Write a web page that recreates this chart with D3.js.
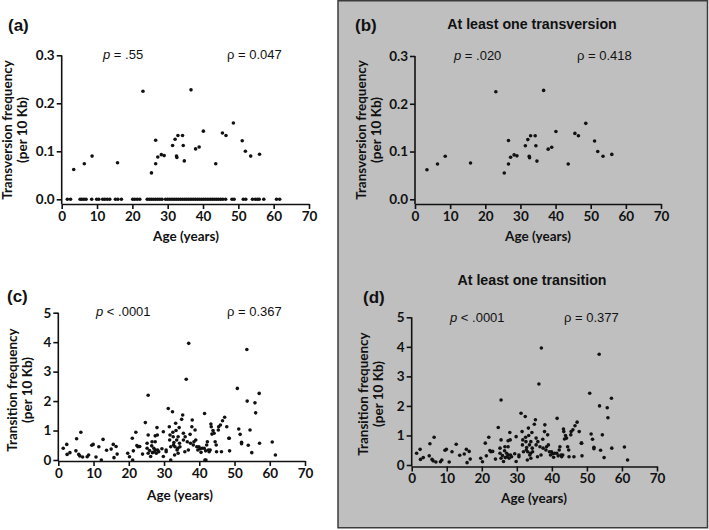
<!DOCTYPE html>
<html><head><meta charset="utf-8">
<script src="https://cdn.jsdelivr.net/npm/d3@7"></script>
<style>body{margin:0;background:#fff}svg{display:block}</style>
</head><body><svg id="chart" width="709" height="530"></svg>
<script>
// ---------- DATA ----------
const ageTicks = [0, 10, 20, 30, 40, 50, 60, 70];
const transversionTicks = [0, 0.1, 0.2, 0.3];
const transitionTicks = [0, 1, 2, 3, 4, 5];

// samples with at least one transversion
const transversionAge  = [3.4, 6.4, 8.6, 15.8, 23.0, 25.4, 26.6, 26.6, 27.2, 28.2, 29.0, 31.4, 32.1, 32.5, 32.6, 32.9, 34.2, 34.4, 34.7, 36.6, 37.9, 38.9, 40.1, 43.6, 45.5, 46.5, 48.6, 51.1, 52.0, 53.5, 56.0];
const transversionFreq = [0.062, 0.074, 0.090, 0.076, 0.225, 0.055, 0.123, 0.074, 0.088, 0.093, 0.091, 0.112, 0.125, 0.090, 0.087, 0.133, 0.133, 0.112, 0.080, 0.228, 0.105, 0.109, 0.142, 0.074, 0.138, 0.133, 0.159, 0.122, 0.100, 0.090, 0.094];

// samples with no transversion (frequency 0)
const zeroTransversionAge = [1.6, 2.5, 5.2, 5.7, 6.3, 6.9, 8.5, 9.9, 10.5, 11.6, 12.2, 12.9, 13.6, 15.2, 15.9, 16.9, 20.1, 20.7, 21.4, 22.1,
  24.2, 24.8, 25.4, 26.0, 26.6, 27.2, 27.8, 28.4, 29.4, 30.0, 30.6, 31.2, 31.8, 32.4, 33.0, 33.6, 34.2, 34.8, 35.4, 36.0, 36.6, 37.2,
  37.8, 38.4, 39.0, 39.6, 40.2, 40.8, 41.4, 42.0, 42.6, 43.2, 43.8, 44.4, 45.0, 45.6, 46.4, 48.2, 48.8, 51.4, 52.1, 54.0, 54.8, 55.4, 55.9, 57.2, 60.8, 61.7];

// transitions (all samples)
const transitionAge = [
  1.4, 2.4, 2.5, 3.3, 5.2, 5.0, 5.8, 6.4, 6.1, 6.9, 8.2, 8.6, 9.5, 9.9, 10.7, 11.5, 12.2, 12.7, 13.7, 15.0, 15.6, 15.8, 16.4, 16.7,
  19.7, 20.2, 21.1, 21.0, 21.3, 22.0, 22.3, 22.6, 23.1, 23.9, 24.7, 25.2, 25.2, 25.5, 25.5, 25.5, 25.9, 26.2, 26.5, 26.6, 26.7, 27.1,
  27.2, 27.5, 27.5, 27.6, 27.8, 28.0, 28.1, 28.2, 28.5, 29.4, 29.8, 29.8, 30.6, 30.6,
  31.2, 31.5, 31.6, 31.9, 31.9, 31.7, 32.4, 32.5, 32.6, 32.7, 32.8, 33.0, 33.1, 33.3, 33.4, 33.6, 33.7, 33.9, 34.0, 34.0, 34.3, 34.4,
  34.5, 35.0, 35.3, 35.5, 35.5, 35.9, 36.0, 36.3, 37.0, 36.6, 36.9, 37.4, 37.5, 37.9, 38.0, 38.3, 38.5, 38.8, 39.0, 39.3, 39.6, 39.9,
  40.2, 40.5, 40.8, 41.4, 41.6, 41.9, 41.5,
  41.8, 42.1, 42.3, 42.6, 42.8, 43.1, 43.3, 43.4, 43.6, 43.9, 44.2, 44.5, 44.8, 44.9, 45.4, 45.5, 46.0, 46.3, 46.6, 47.2, 47.8, 48.4, 48.6, 48.5,
  50.8, 51.2, 51.6, 52.0, 52.0, 53.5, 53.6, 53.9, 54.4, 54.9, 55.8, 56.0, 57.0, 57.1, 60.7, 61.6];
const transitionFreq = [
  0.40, 0.53, 0.19, 0.25, 0.72, 0.31, 0.19, 0.94, 0.14, 0.10, 0.11, 0.17, 0.50, 0.53, 0.10, 0.45, 0.00, 0.70, 0.33, 0.37, 0.53, 0.08, 0.46, 0.20,
  0.23, 0.11, 0.00, 0.74, 0.31, 0.94, 0.49, 0.45, 0.46, 0.20, 1.27, 0.57, 0.40, 2.20, 0.85, 0.23, 0.32, 0.12, 0.48, 0.62, 0.25, 0.40,
  0.28, 0.82, 0.62, 0.34, 0.23, 1.10, 0.85, 0.34, 0.28, 0.38, 0.12, 0.96, 0.34, 0.28,
  1.75, 1.13, 0.68, 0.45, 0.00, 0.85, 1.64, 0.94, 0.79, 0.51, 0.59, 0.17, 0.45, 1.25, 1.00, 0.68, 0.34, 0.40, 0.23, 0.79, 1.10, 0.57,
  0.45, 1.38, 1.53, 0.91, 0.68, 0.28, 0.79, 2.74, 3.96, 0.62, 0.34, 0.87, 0.57, 1.13, 1.36, 0.51, 0.62, 1.02, 0.68, 0.45, 0.34, 0.45,
  0.38, 0.26, 0.40, 0.40, 0.00, 0.00, 1.58,
  0.31, 0.51, 0.62, 0.34, 0.28, 0.34, 1.22, 1.13, 0.88, 1.00, 0.91, 0.62, 0.51, 0.28, 1.02, 1.13, 1.19, 0.28, 1.33, 1.45, 1.13, 0.74, 0.31, 0.74,
  2.43, 1.05, 0.87, 0.60, 0.55, 3.75, 2.00, 0.50, 1.02, 0.25, 1.94, 1.60, 2.26, 0.57, 0.61, 0.17];

const panelLabels = ["(a)", "(b)", "(c)", "(d)"];
const panelTitles = ["", "At least one transversion", "", "At least one transition"];
const pTexts = ["= .55", "= .020", "< .0001", "< .0001"];
const rhoTexts = ["0.047", "0.418", "0.367", "0.377"];
const yTitles = [["Transversion frequency", "(per 10 Kb)"], ["Transition frequency", "(per 10 Kb)"]];
const xTitle = "Age (years)";

// ---------- DRAW ----------
const svg = d3.select("#chart");
const INK = "#111";
const LABEL_FONT = "Lato, 'Open Sans', sans-serif";
const SANS = "'Liberation Sans', Arial, sans-serif";

// grey box for panels (b) and (d)
svg.append("rect").attr("x", 338).attr("y", 0.75).attr("width", 369.5).attr("height", 527)
  .attr("fill", "#bfbfbf").attr("stroke", "#3c3c3c").attr("stroke-width", 1.5);

function points(ages, vals) { return ages.map((a, i) => ({ a, v: vals[i] })); }

const transversionAll = points(transversionAge, transversionFreq)
  .concat(zeroTransversionAge.map(a => ({ a, v: 0 })));
const transversionSome = points(transversionAge, transversionFreq);
const transitionAll = points(transitionAge, transitionFreq);
const transitionSome = transitionAll.filter(d => d.v > 0.02);

const panels = [
  { i: 0, data: transversionAll, ymax: 0.3, ticks: transversionTicks, fmt: d3.format(".1f"), yt: 0,
    x0: 61.7, x1: 309, y0: 199.3, y1: 55.3, axisY: 204,
    lab: [8, 31], pX: 103, rX: 227, textY: 59, yT1: 7.5, yT2: 22, yTC: 130, xTC: 186, xTY: 241 },
  { i: 1, data: transversionSome, ymax: 0.3, ticks: transversionTicks, fmt: d3.format(".1f"), yt: 0,
    x0: 415, x1: 661, y0: 199.3, y1: 56, axisY: 204, title: [532, 29],
    lab: [355, 31], pX: 454, rX: 577, textY: 60, yT1: 361, yT2: 376, yTC: 130, xTC: 538, xTY: 241 },
  { i: 2, data: transitionAll, ymax: 5, ticks: transitionTicks, fmt: d3.format("d"), yt: 1,
    x0: 58.3, x1: 305, y0: 460, y1: 312.7, axisY: 461,
    lab: [7, 302], pX: 96, rX: 227, textY: 316, yT1: 12, yT2: 27, yTC: 390, xTC: 180, xTY: 500 },
  { i: 3, data: transitionSome, ymax: 5, ticks: transitionTicks, fmt: d3.format("d"), yt: 1,
    x0: 411.7, x1: 657, y0: 465, y1: 317.3, axisY: 466.5, title: [532, 285],
    lab: [363, 303], pX: 450, rX: 564, textY: 322, yT1: 363.5, yT2: 378.5, yTC: 394, xTC: 534, xTY: 503 }
];

panels.forEach(p => {
  const x = d3.scaleLinear().domain([0, 70]).range([p.x0, p.x1]);
  const y = d3.scaleLinear().domain([0, p.ymax]).range([p.y0, p.y1]);
  const g = svg.append("g");

  // x axis
  const gx = g.append("g").attr("transform", `translate(0,${p.axisY})`)
    .call(d3.axisBottom(x).tickValues(ageTicks).tickSize(5).tickSizeOuter(0).tickPadding(2).tickFormat(d3.format("d")));
  // y axis
  const gy = g.append("g").attr("transform", `translate(${x(0)},0)`)
    .call(d3.axisLeft(y).tickValues(p.ticks).tickSize(5).tickSizeOuter(0).tickPadding(2).tickFormat(p.fmt));
  gy.select(".domain").remove();
  g.append("line").attr("x1", x(0)).attr("x2", x(0)).attr("y1", y(p.ymax)).attr("y2", p.axisY)
    .attr("stroke", INK).attr("stroke-width", 1.6);
  [gx, gy].forEach(a => {
    a.selectAll("path,line").attr("stroke", INK).attr("stroke-width", 1.6);
    a.selectAll("text").attr("fill", INK).attr("font-family", LABEL_FONT).attr("font-weight", 700).attr("font-size", 13.5);
  });

  // points
  g.append("g").selectAll("circle").data(p.data).join("circle")
    .attr("cx", d => x(d.a)).attr("cy", d => y(d.v)).attr("r", 1.8).attr("fill", INK);

  // panel label
  g.append("text").attr("x", p.lab[0]).attr("y", p.lab[1]).text(panelLabels[p.i])
    .attr("font-family", SANS).attr("font-weight", 700).attr("font-size", 17).attr("fill", INK);
  // title
  if (p.title) {
    g.append("text").attr("x", p.title[0]).attr("y", p.title[1]).attr("text-anchor", "middle")
      .text(panelTitles[p.i]).attr("font-family", SANS).attr("font-weight", 700).attr("font-size", 14.2).attr("fill", INK);
  }
  // p value
  const pt = g.append("text").attr("x", p.pX).attr("y", p.textY)
    .attr("font-family", SANS).attr("font-size", 13).attr("fill", INK);
  pt.append("tspan").attr("font-style", "italic").text("p");
  pt.append("tspan").text(" " + pTexts[p.i]);
  g.append("text").attr("x", p.rX).attr("y", p.textY).text("ρ = " + rhoTexts[p.i])
    .attr("font-family", SANS).attr("font-size", 13).attr("fill", INK);

  // y title (two lines, rotated)
  const yt = yTitles[p.yt];
  [[p.yT1, yt[0]], [p.yT2, yt[1]]].forEach(([cx, t]) => {
    g.append("text").attr("transform", `translate(${cx},${p.yTC}) rotate(-90)`)
      .attr("text-anchor", "middle").attr("dy", "0.35em").text(t)
      .attr("font-family", LABEL_FONT).attr("font-weight", 700).attr("font-size", 13.5).attr("fill", INK);
  });
  // x title
  g.append("text").attr("x", p.xTC).attr("y", p.xTY).attr("text-anchor", "middle").text(xTitle)
    .attr("font-family", LABEL_FONT).attr("font-weight", 700).attr("font-size", 13.5).attr("fill", INK);
});
</script>
</body></html>
